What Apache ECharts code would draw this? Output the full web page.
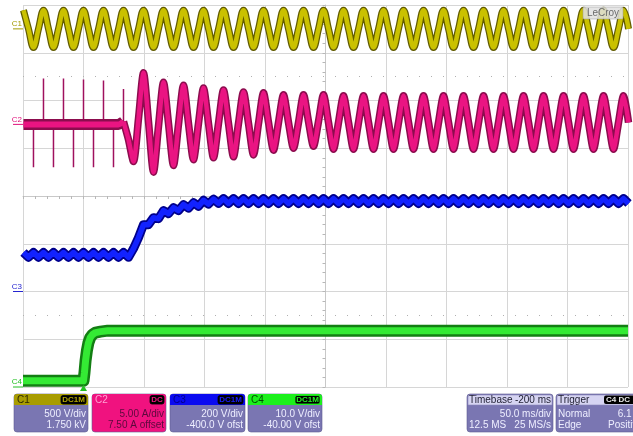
<!DOCTYPE html>
<html><head><meta charset="utf-8">
<script src="https://cdn.jsdelivr.net/npm/echarts/dist/echarts.min.js"></script>
<style>html,body{margin:0;padding:0;background:#fff;}#c{width:633px;height:436px;}</style>
</head><body><div id="c"></div><script>
// ---- sample clock (ms): one sample every quarter of a 60 Hz line cycle ----
const sampleStart = -49.6;
const sampleStep = 4.1325;

// ---- C1 : line voltage (V) ----
const c1Volts = [
 195,0,-195,0, 195,0,-195,0, 195,0,-195,0, 195,0,-195,0, 195,0,-195,0, 195,0,-195,0, 195,0,-195,0, 195,0,-195,0, 195,0,-195,0, 195,0,-195,0,
 195,0,-195,0, 195,0,-195,0, 195,0,-195,0, 195,0,-195,0, 195,0,-195,0, 195,0,-195,0, 195,0,-195,0, 195,0,-195,0, 195,0,-195,0, 195,0,-195,0,
 195,0,-195,0, 195,0,-195,0, 195,0,-195,0, 195,0,-195,0, 195,0,-195,0, 195,0,-195,0, 195,0,-195,0, 195,0,-195,0, 195,0,-195,0, 195,0,-195,0,
 195,0
];

// ---- C2 : input current (A) ----
const c2Amps = [
 0,0,0,0,0,0,0,0,0,0, 0,0,0,0,0,0,0,0,0,0,
 0.3,-1.6,-3.9,0.6, 5.4,0.3,-5.0,-0.2, 4.4,0.1,-4.3,0, 4.1,0.1,-3.7,0.1, 3.8,0.1,-3.5,0.1,
 3.6,0.1,-3.4,0.1, 3.4,0.1,-3.2,0.1, 3.3,0.2,-2.7,0.2, 3.1,0.2,-2.5,0.2, 3.1,0.3,-2.3,0.3,
 3.1,0.2,-2.6,0.2, 3.0,0.2,-2.6,0.2, 3.0,0.2,-2.6,0.2, 3.0,0.2,-2.6,0.2, 3.0,0.2,-2.6,0.2,
 3.0,0.2,-2.6,0.2, 3.0,0.2,-2.6,0.2, 3.0,0.2,-2.6,0.2, 3.0,0.2,-2.6,0.2, 3.0,0.2,-2.6,0.2,
 3.0,0.2,-2.6,0.2, 3.0,0.2,-2.6,0.2, 3.0,0.2,-2.6,0.2, 3.0,0.2,-2.6,0.2, 3.0,0.2,-2.6,0.2,
 3.0,0.2
];
// current spikes before start-up: [time ms, peak A]
const c2SpikeTimes = [-41.34,-33.07,-24.81,-16.54,-8.28,0,8.26,16.52,24.79,33.05];
const c2SpikeAmps  = [-4.5,4.8,-4.5,4.8,-4.5,4.7,-4.5,4.6,-4.5,3.7];

// ---- C3 : bus voltage (V) ----
const c3Volts = [
 163,143,163,143,163,143,163,143,163,143, 163,143,163,143,163,143,163,143,163,143,
 163,143,180,226,280,280,309,305,339,326, 351,339,364,349,372,357,382,366,387,369,
 389,369,389,369,389,369,389,369,389,369, 389,369,389,369,389,369,389,369,389,369,
 389,369,389,369,389,369,389,369,389,369, 389,369,389,369,389,369,389,369,389,369,
 389,369,389,369,389,369,389,369,389,369, 389,369,389,369,389,369,389,369,389,369,
 389,369,389,369,389,369,389,369,389,369, 389,369,389,369,389,369,389,369,389,369,
 389,369
];

// ---- C4 : auxiliary supply (V), [time ms, V] ----
const c4Times = [-50,0,0.8,1.7,2.8,4.0,5.5,7.5,10,14,20,450];
const c4Volts = [1.3,1.3,3.0,5.5,7.6,9.2,10.3,11.0,11.4,11.6,11.8,11.8];

// ---- channel settings: scale per division, offset ----
const chScale  = [500, 5, 200, 10];
const chOffset = [1750, 7.5, -400, -40];
const chNames = ['C1','C2','C3','C4'];

const times = c1Volts.map((_, i) => +(sampleStart + i * sampleStep).toFixed(2));
const pairs = vals => vals.map((v, i) => [times[i], v]);

const c2BandData = pairs(c2Amps).slice(0, 21);
const c2WaveData = pairs(c2Amps).slice(20);
const c2SpikeData = [];
c2SpikeTimes.forEach((t, k) => { c2SpikeData.push([t, 0], [t, c2SpikeAmps[k]], [t, 0]); });
const c4Data = c4Times.map((t, i) => [t, c4Volts[i]]);

const chart = echarts.init(document.getElementById('c'), null, {renderer: 'canvas'});

function trace(data, yIdx, outer, inner, wOut, wIn, smooth, z) {
  const base = {type: 'line', xAxisIndex: 1, yAxisIndex: yIdx, data: data, symbol: 'none',
    showSymbol: false, smooth: smooth, silent: true, animation: false, clip: true};
  return [
    Object.assign({}, base, {z: z, lineStyle: {color: outer, width: wOut, join: 'round', cap: 'butt'}}),
    Object.assign({}, base, {z: z + 1, lineStyle: {color: inner, width: wIn, join: 'round', cap: 'butt'}})
  ];
}

function chAxis(k) {
  const s = chScale[k], offDiv = chOffset[k] / s;
  return {type: 'value', show: false, min: (-4 - offDiv) * s, max: (4 - offDiv) * s, gridIndex: 0};
}

const gridLine = {show: true, lineStyle: {color: '#d6d6d6', width: 1}};
const option = {
  animation: false,
  backgroundColor: '#ffffff',
  grid: {left: 23, top: 5, width: 605, height: 382, show: false},
  xAxis: [
    {type: 'value', min: -5, max: 5, interval: 1,
     axisLine: {show: true, onZero: true, onZeroAxisIndex: 0, lineStyle: {color: '#c8c8c8'}},
     axisTick: {show: true, length: 3, lineStyle: {color: '#b8b8b8'}},
     minorTick: {show: true, splitNumber: 5, length: 3, lineStyle: {color: '#b8b8b8'}},
     axisLabel: {show: false}, splitLine: gridLine},
    {type: 'value', min: -50, max: 450, show: false}
  ],
  yAxis: [
    {type: 'value', min: -4, max: 4, interval: 1,
     axisLine: {show: true, onZero: true, onZeroAxisIndex: 0, lineStyle: {color: '#c8c8c8'}},
     axisTick: {show: true, length: 3, lineStyle: {color: '#b8b8b8'}},
     minorTick: {show: true, splitNumber: 5, length: 3, lineStyle: {color: '#b8b8b8'}},
     axisLabel: {show: false}, splitLine: gridLine},
    chAxis(0), chAxis(1), chAxis(2), chAxis(3)
  ],
  series: [
    {type: 'line', xAxisIndex: 0, yAxisIndex: 0, data: [], silent: true,
     markLine: {silent: true, symbol: 'none', label: {show: false},
       lineStyle: {color: '#b0b0b0', type: [1, 11], width: 1},
       data: [{yAxis: 2.5}, {yAxis: -2.5}]}},
    ...trace(c4Data, 4, '#137e13', '#34ea34', 12, 7, false, 2),
    ...trace(pairs(c3Volts), 3, '#00008c', '#1222ff', 9, 5.5, false, 4),
    {type: 'line', xAxisIndex: 1, yAxisIndex: 2, data: c2SpikeData, symbol: 'none', silent: true,
     z: 5, lineStyle: {color: '#a0105e', width: 1.5}},
    ...trace(c2BandData, 2, '#8c0c4e', '#ea1482', 11, 6, 0.25, 6),
    ...trace(c2WaveData, 2, '#8c0c4e', '#ea1482', 7.5, 4.5, 0.25, 6),
    ...trace(pairs(c1Volts), 1, '#625c00', '#cac100', 7, 4.5, 0.4, 8)
  ]
};
chart.setOption(option);

// ---- overlay texts: channel markers, logo, info boxes ----
const FONT = '"Liberation Sans", Arial, sans-serif';
const g = [];
const markColors = ['#a39a00', '#e0107a', '#2424d0', '#22c022'];
for (let k = 0; k < 4; k++) {
  const y0 = chart.convertToPixel({yAxisIndex: k + 1}, 0);
  g.push({type: 'text', z: 20, style: {text: chNames[k], x: 22, y: y0 - 1, textAlign: 'right',
    textVerticalAlign: 'bottom', fill: markColors[k], font: '8px ' + FONT}});
  g.push({type: 'line', z: 20, shape: {x1: 13, y1: y0, x2: 23, y2: y0},
    style: {stroke: markColors[k], lineWidth: 1}});
}
// trigger marker
const tx = chart.convertToPixel({xAxisIndex: 1}, 0);
g.push({type: 'polygon', z: 20, shape: {points: [[tx - 3.5, 391], [tx + 3.5, 391], [tx, 385]]},
  style: {fill: '#22c022'}});
// logo
g.push({type: 'rect', z: 20, shape: {x: 583, y: 7, width: 40, height: 12, r: 1},
  style: {fill: 'rgba(225,225,225,0.85)', stroke: '#9a9a9a', lineWidth: 0.5}});
g.push({type: 'text', z: 21, style: {text: 'LeCroy', x: 603, y: 13, textAlign: 'center',
  textVerticalAlign: 'middle', fill: '#6a6a6a', font: '10px ' + FONT}});

const BODY = '#7a76b2';
function txt(t, x, y, fill, align, size, weight) {
  g.push({type: 'text', z: 22, style: {text: t, x: x, y: y, textAlign: align || 'left',
    textVerticalAlign: 'middle', fill: fill, font: (weight || '') + ' ' + (size || 10) + 'px ' + FONT}});
}
function chBox(x, w, head, bodyFill, name, nameFill, badge, badgeFill, badgeStroke, l1, l2, bodyText) {
  g.push({type: 'rect', z: 21, shape: {x: x, y: 394, width: w, height: 38, r: 3},
    style: {fill: bodyFill, stroke: '#5e5a90', lineWidth: 0.6}});
  g.push({type: 'rect', z: 21, shape: {x: x, y: 394, width: w, height: 11, r: [3, 3, 0, 0]},
    style: {fill: head}});
  txt(name, x + 3, 400, nameFill, 'left', 10);
  const bw = badge.length * 5.5 + 3;
  g.push({type: 'rect', z: 22, shape: {x: x + w - bw - 2, y: 395.5, width: bw, height: 8.5, r: 2},
    style: {fill: '#000', stroke: badgeStroke, lineWidth: 0.8}});
  txt(badge, x + w - 2 - bw / 2, 400, badgeFill, 'center', 8, 'bold');
  txt(l1, x + w - 2, 414, bodyText, 'right', 10);
  txt(l2, x + w - 2, 425, bodyText, 'right', 10);
}
chBox(14, 74, '#a89c00', BODY, 'C1', '#2c2800', 'DC1M', '#b0a400', '#000', '500 V/div', '1.750 kV', '#eeeeff');
chBox(92, 74, '#f0127f', '#f0127f', 'C2', '#ffa0d2', 'DC', '#f0127f', '#000', '5.00 A/div', '7.50 A offset', '#5a0a3c');
chBox(170, 75, '#0a0af0', BODY, 'C3', '#00008a', 'DC1M', '#1a1aff', '#000', '200 V/div', '-400.0 V ofst', '#eeeeff');
chBox(248, 74, '#1cf01c', BODY, 'C4', '#004a00', 'DC1M', '#22f022', '#22f022', '10.0 V/div', '-40.00 V ofst', '#eeeeff');

function infoBox(x, w) {
  g.push({type: 'rect', z: 21, shape: {x: x, y: 394, width: w, height: 38, r: 3},
    style: {fill: BODY, stroke: '#5e5a90', lineWidth: 0.6}});
  g.push({type: 'rect', z: 21, shape: {x: x + 1, y: 395, width: w - 2, height: 10, r: [2, 2, 0, 0]},
    style: {fill: '#d6d4f2', stroke: '#8a86b8', lineWidth: 0.6}});
}
infoBox(467, 86);
txt('Timebase', 469, 400, '#1e1e30', 'left', 10);
txt('-200 ms', 551, 400, '#1e1e30', 'right', 10);
txt('50.0 ms/div', 551, 414, '#eeeeff', 'right', 10);
txt('12.5 MS', 469, 425, '#eeeeff', 'left', 10);
txt('25 MS/s', 551, 425, '#eeeeff', 'right', 10);
infoBox(556, 90);
txt('Trigger', 558, 400, '#1e1e30', 'left', 10);
g.push({type: 'rect', z: 22, shape: {x: 604, y: 395.5, width: 32, height: 8.5, r: 2}, style: {fill: '#000'}});
txt('C4 DC', 606, 400, '#e8e8e8', 'left', 8, 'bold');
txt('Normal', 558, 414, '#eeeeff', 'left', 10);
txt('6.1 V', 641, 414, '#eeeeff', 'right', 10);
txt('Edge', 558, 425, '#eeeeff', 'left', 10);
txt('Positive', 643, 425, '#eeeeff', 'right', 10);

chart.setOption({graphic: g});
</script></body></html>
